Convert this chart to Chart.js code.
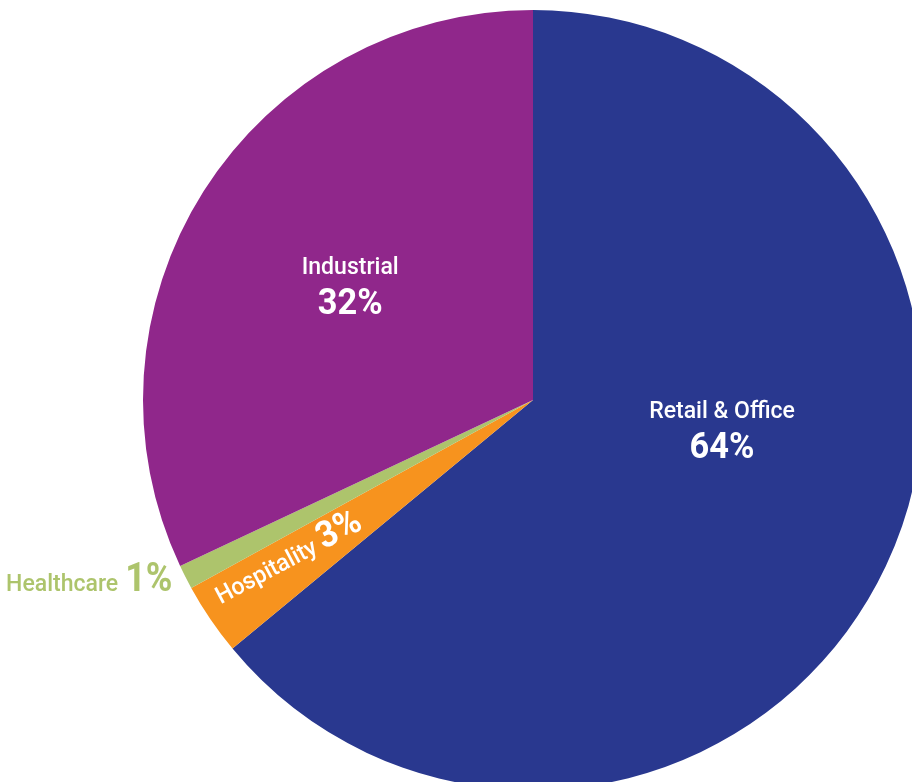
<!DOCTYPE html>
<html>
<head>
<meta charset="utf-8">
<script src="https://cdn.jsdelivr.net/npm/chart.js@4.4.1/dist/chart.umd.min.js"></script>
<style>
  html, body { margin: 0; padding: 0; background: #ffffff; overflow: hidden; }
  #wrap { position: absolute; left: 0; top: 0; width: 1000px; height: 800px; }
</style>
</head>
<body>
<div id="wrap"><canvas id="pie" width="1000" height="800"></canvas></div>
<script>
// Share of portfolio by sector
const sectors = ['Retail & Office', 'Hospitality', 'Healthcare', 'Industrial'];
const shares = [64, 3, 1, 32];
const sectorColors = ['#29388f', '#f7931e', '#adc46c', '#90278b'];

// Where each sector's caption sits: t = fraction along the slice's angle,
// r = fraction of the outer radius; mode picks the caption layout.
const captionLayout = [
  { mode: 'stacked', t: 0.427, r: 0.49, color: '#ffffff' },
  { mode: 'inlineRotated', t: 0.46, r: 0.75, rot: -28, color: '#ffffff' },
  { mode: 'inlineRight', t: 0.25, r: 1.046, color: '#adc46c' },
  { mode: 'stacked', t: 0.5, r: 0.555, color: '#ffffff' }
];

const FONT = 'Roboto, "Liberation Sans", Arial, sans-serif';
const NAME_FONT = '500 24px ' + FONT;
const NAME_SX = 0.96;
const PCT_FONT = 'bold 37px ' + FONT;
const PCT_SX = 0.93;
const PCT_FONT_BIG = 'bold 40px ' + FONT;
const PCT_BIG_SX = 0.9;

function drawScaled(ctx, text, x, y, font, sx, align) {
  ctx.save();
  ctx.font = font;
  const w = ctx.measureText(text).width * sx;
  let left = x;
  if (align === 'center') left = x - w / 2;
  else if (align === 'right') left = x - w;
  ctx.translate(left, y);
  ctx.scale(sx, 1);
  ctx.textAlign = 'left';
  ctx.textBaseline = 'alphabetic';
  ctx.fillText(text, 0, 0);
  ctx.restore();
  return w;
}

function measureScaled(ctx, text, font, sx) {
  ctx.save();
  ctx.font = font;
  const w = ctx.measureText(text).width * sx;
  ctx.restore();
  return w;
}

const sliceCaptions = {
  id: 'sliceCaptions',
  afterDatasetsDraw(chart) {
    const ctx = chart.ctx;
    const meta = chart.getDatasetMeta(0);
    const labels = chart.data.labels;
    const values = chart.data.datasets[0].data;
    meta.data.forEach((arc, i) => {
      const lay = captionLayout[i];
      const p = arc.getProps(['x', 'y', 'startAngle', 'endAngle', 'outerRadius'], true);
      const a = p.startAngle + (p.endAngle - p.startAngle) * lay.t;
      const rr = p.outerRadius * lay.r;
      const px = p.x + Math.cos(a) * rr;
      const py = p.y + Math.sin(a) * rr;
      const name = labels[i];
      const pct = values[i] + '%';
      ctx.fillStyle = lay.color;
      if (lay.mode === 'stacked') {
        drawScaled(ctx, name, px, py - 10, NAME_FONT, NAME_SX, 'center');
        drawScaled(ctx, pct, px, py + 30, PCT_FONT, PCT_SX, 'center');
      } else if (lay.mode === 'inlineRight') {
        const wp = measureScaled(ctx, pct, PCT_FONT_BIG, PCT_BIG_SX);
        drawScaled(ctx, pct, px, py, PCT_FONT_BIG, PCT_BIG_SX, 'right');
        drawScaled(ctx, name, px - wp - 7, py, NAME_FONT, NAME_SX, 'right');
      } else {
        const wn = measureScaled(ctx, name, NAME_FONT, NAME_SX);
        const wp = measureScaled(ctx, pct, PCT_FONT, PCT_SX);
        const gap = 6;
        const total = wn + gap + wp;
        ctx.save();
        ctx.translate(px, py);
        ctx.rotate(lay.rot * Math.PI / 180);
        drawScaled(ctx, name, -total / 2, 0, NAME_FONT, NAME_SX, 'left');
        drawScaled(ctx, pct, -total / 2 + wn + gap, 0, PCT_FONT, PCT_SX, 'left');
        ctx.restore();
      }
    });
  }
};

new Chart(document.getElementById('pie'), {
  type: 'pie',
  data: {
    labels: sectors,
    datasets: [{
      data: shares,
      backgroundColor: sectorColors,
      borderWidth: 0,
      hoverOffset: 0
    }]
  },
  options: {
    responsive: false,
    animation: false,
    layout: { padding: { left: 143, top: 10, right: 77, bottom: 10 } },
    plugins: {
      legend: { display: false },
      tooltip: { enabled: false }
    }
  },
  plugins: [sliceCaptions]
});
</script>
</body>
</html>
